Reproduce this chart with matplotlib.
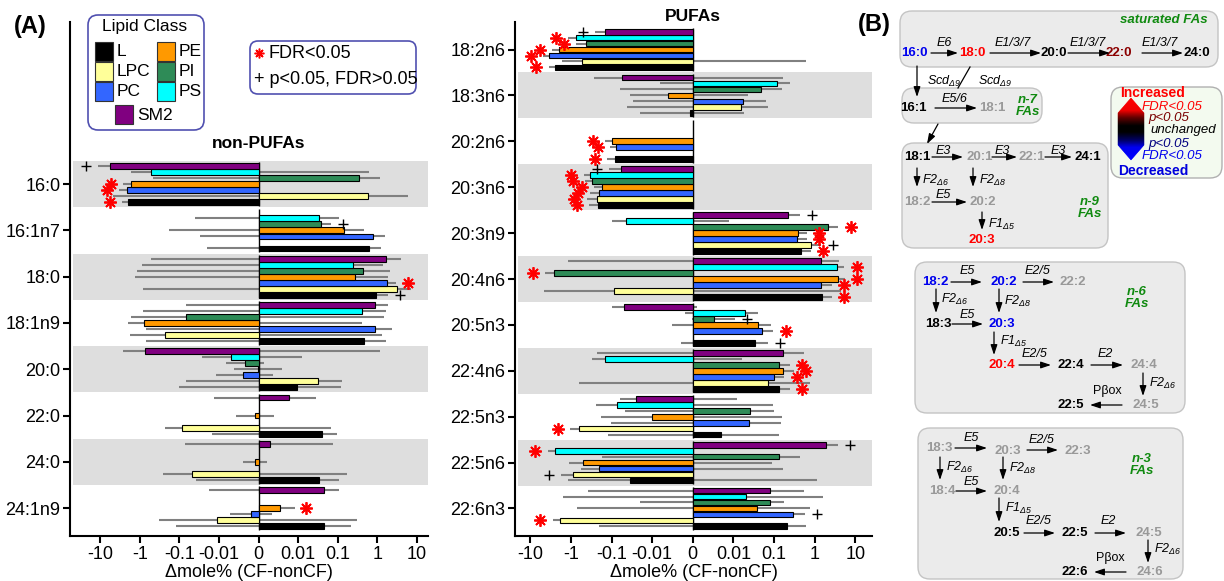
import numpy as np
import matplotlib
matplotlib.use('Agg')
import matplotlib.pyplot as plt
from matplotlib.patches import FancyBboxPatch, Polygon
from matplotlib.colors import LinearSegmentedColormap

plt.rcParams['font.family'] = ['Liberation Sans', 'DejaVu Sans']
plt.rcParams['mathtext.fontset'] = 'custom'
plt.rcParams['mathtext.rm'] = 'Liberation Sans:italic'
plt.rcParams['mathtext.it'] = 'Liberation Sans:italic'
plt.rcParams['mathtext.bf'] = 'Liberation Sans:bold'
plt.rcParams['axes.unicode_minus'] = False

nan = np.nan

# lipid classes, bottom to top inside each group
classes = ['L', 'LPC', 'PC', 'PE', 'PI', 'PS', 'SM2']
class_colors = ['#000000', '#ffff99', '#3366ff', '#ff9900', '#2e8b57', '#00ffff', '#800080']

x_ticks = [-10, -1, -0.1, -0.01, 0, 0.01, 0.1, 1, 10]
x_tick_labels = ['-10', '-1', '-0.1', '-0.01', '0', '0.01', '0.1', '1', '10']

# non-PUFAs: mean delta mole% and error, columns follow `classes`
nonpufa_names = ['16:0', '16:1n7', '18:0', '18:1n9', '20:0', '22:0', '24:0', '24:1n9']
nonpufa_mean = [
    [-2.0, 0.58, -2.1, -1.64, 0.34, -0.51, -5.8],
    [0.61, nan, 0.77, 0.142, 0.038, 0.033, nan],
    [0.94, 3.17, 1.78, 0.28, 0.43, 0.24, 1.67],
    [0.46, -0.235, 0.85, -0.8, -0.069, 0.41, 0.89],
    [0.0097, 0.0316, -0.004, -0.0002, -0.0035, -0.0069, -0.74],
    [0.04, -0.085, nan, -0.001, nan, nan, 0.0078],
    [0.033, -0.047, nan, -0.0009, nan, nan, 0.003],
    [0.045, -0.0112, -0.002, 0.0053, nan, nan, 0.046],
]
nonpufa_err = [
    [0.8, 5.3, 1.3, 1.04, 0.8, 1.14, 5.6],
    [0.63, nan, 0.8, 0.33, 0.031, 0.074, nan],
    [0.9, 4.0, 1.22, 1.57, 1.6, 1.14, 2.2],
    [1.15, 1.57, 1.53, 1.2, 1.57, 1.26, 0.96],
    [0.112, 0.098, 0.0077, 0.006, 0.0048, 0.0196, 1.94],
    [0.055, 0.151, nan, 0.0048, nan, nan, 0.021],
    [0.072, 0.22, nan, 0.003, nan, nan, 0.075],
    [0.165, 0.32, 0.0053, 0.0038, nan, nan, 0.064],
]
nonpufa_sig = [
    ['*', '', '*', '*', '', '', '+'],
    ['', '', '', '', '+', '', ''],
    ['+', '', '*', '', '', '', ''],
    ['', '', '', '', '', '', ''],
    ['', '', '', '', '', '', ''],
    ['', '', '', '', '', '', ''],
    ['', '', '', '', '', '', ''],
    ['', '', '', '*', '', '', ''],
]

# PUFAs
pufa_names = ['18:2n6', '18:3n6', '20:2n6', '20:3n6', '20:3n9', '20:4n6',
              '20:5n3', '22:4n6', '22:5n3', '22:5n6', '22:6n3']
pufa_mean = [
    [-2.45, -0.54, -3.37, -1.95, -0.42, -0.74, -0.149],
    [-0.0007, 0.0155, 0.017, -0.006, 0.047, 0.117, -0.056],
    [-0.081, nan, -0.077, -0.098, nan, nan, nan],
    [-0.21, -0.23, -0.198, -0.174, -0.31, -0.33, -0.058],
    [0.46, 0.8, 0.363, 0.38, 2.18, -0.044, 0.226],
    [1.55, -0.085, 1.44, 3.84, -2.58, 3.5, 1.44],
    [0.034, nan, 0.05, 0.04, 0.0053, 0.0195, -0.049],
    [0.133, 0.073, 0.102, 0.17, 0.136, -0.144, 0.164],
    [0.007, -0.65, 0.0244, -0.0102, 0.0257, -0.074, -0.0247],
    [-0.035, -0.91, -0.2, -0.51, 0.136, -2.53, 1.88],
    [0.206, -1.91, 0.30, 0.038, 0.08, 0.0205, 0.08],
]
pufa_err = [
    [1.1, 1.14, 1.5, 0.9, 0.32, 0.41, 0.1],
    [0.019, 0.057, 0.046, 0.0285, 0.108, 0.125, 0.22],
    [0.05, nan, 0.031, 0.046, nan, nan, nan],
    [0.145, 0.18, 0.14, 0.10, 0.14, 0.16, 0.056],
    [0.34, 0.6, 0.28, 0.28, 1.66, 0.053, 0.21],
    [1.1, 4.5, 1.2, 1.8, 1.7, 1.9, 2.6],
    [0.037, nan, 0.047, 0.045, 0.0055, 0.0215, 0.05],
    [0.117, 0.69, 0.078, 0.14, 0.114, 0.16, 0.39],
    [0.126, 0.39, 0.125, 0.167, 0.073, 0.17, 0.037],
    [1.16, 0.86, 0.37, 0.6, 0.31, 1.23, 1.8],
    [0.41, 0.93, 0.28, 0.75, 0.1, 1.55, 0.47],
]
pufa_sig = [
    ['*', '', '*', '*', '*', '*', '+'],
    ['', '', '', '', '', '', ''],
    ['*', '', '*', '*', '', '', ''],
    ['*', '*', '*', '*', '*', '*', '+'],
    ['*', '+', '*', '*', '*', '', '+'],
    ['*', '', '*', '*', '*', '*', ''],
    ['+', '', '*', '', '+', '', ''],
    ['*', '', '*', '*', '*', '', ''],
    ['', '*', '', '', '', '', ''],
    ['', '+', '', '', '', '*', '+'],
    ['', '*', '+', '', '', '', ''],
]

LIN = 0.01


def fwd(x):
    # linear below 0.01, one decade per unit above
    x = np.asarray(x, dtype=float)
    a = np.abs(x)
    t = np.where(a < LIN, a / LIN, np.log10(np.maximum(a, LIN)) + 3)
    return np.sign(x) * t


def inv(t):
    t = np.asarray(t, dtype=float)
    a = np.abs(t)
    return np.sign(t) * np.where(a < 1, a * LIN, LIN * 10 ** np.minimum(a - 1, 300))


def draw_panel(ax, names, mean, err, sig, tlim, title, title_y):
    n = len(names)
    ys = np.arange(n)[::-1]
    ax.set_xscale('function', functions=(fwd, inv))
    for y in ys:
        if y % 2 == 1:
            ax.axhspan(y - 0.5, y + 0.5, xmin=0.008, color='#dedede', lw=0, zorder=0)
    ax.vlines(np.zeros(n), ys - 0.47, ys + 0.47, color='black', lw=1, zorder=2)
    mean = np.array(mean, dtype=float)
    err = np.array(err, dtype=float)
    offs = (np.arange(len(classes)) - 3) * 0.13
    for j, col in enumerate(class_colors):
        m, e = mean[:, j], err[:, j]
        ok = ~np.isnan(m)
        yy = ys[ok] + offs[j]
        ax.hlines(yy, m[ok] - e[ok], m[ok] + e[ok], color='#808080', lw=1.5, zorder=1)
        ax.barh(yy, m[ok], height=0.125, color=col, edgecolor='black', lw=0.8, zorder=3)
        for i in range(n):
            s = sig[i][j]
            if not s:
                continue
            d = np.sign(m[i])
            xm = inv(fwd(m[i] + d * e[i]) + d * 0.3)
            if s == '*':
                ax.plot(xm, ys[i] + offs[j], marker=(8, 2, 0), ms=9, mew=1.3,
                        color='red', zorder=4, clip_on=False)
            else:
                ax.plot(xm, ys[i] + offs[j], marker='+', ms=7, mew=1,
                        color='black', zorder=4, clip_on=False)
    ax.set_xlim(inv(tlim[0]), inv(tlim[1]))
    ax.set_ylim(-0.6, tlim[2])
    ax.set_yticks(ys)
    ax.set_yticklabels(names)
    ax.set_xticks(x_ticks)
    ax.set_xticklabels(x_tick_labels)
    ax.tick_params(labelsize=13, length=5, width=1.5, pad=2)
    for side in ['top', 'right']:
        ax.spines[side].set_visible(False)
    for side in ['left', 'bottom']:
        ax.spines[side].set_linewidth(1.5)
    ax.set_xlabel('\u0394mole% (CF-nonCF)', fontsize=13, labelpad=1)
    ax.text(0, title_y, title, ha='center', va='center', fontsize=12.5, fontweight='bold')


fig = plt.figure(figsize=(12.24, 5.81), dpi=100)
W, H = 1224, 581

ax1 = fig.add_axes([70 / W, 45 / H, 358 / W, 514 / H])
draw_panel(ax1, nonpufa_names, nonpufa_mean, nonpufa_err, nonpufa_sig,
           (-4.765, 4.28, 10.5), 'non-PUFAs', 7.87)

ax2 = fig.add_axes([515 / W, 45 / H, 357.3 / W, 514 / H])
draw_panel(ax2, pufa_names, pufa_mean, pufa_err, pufa_sig,
           (-4.377, 4.42, 10.6), 'PUFAs', 10.73)

# overlay in pixel units for legends and the pathway scheme
ov = fig.add_axes([0, 0, 1, 1], zorder=10)
ov.patch.set_alpha(0)
ov.set_xlim(0, W)
ov.set_ylim(H, 0)

ov.text(30, 27, '(A)', fontsize=17, fontweight='bold', ha='center', va='center')
ov.text(874, 25, '(B)', fontsize=17, fontweight='bold', ha='center', va='center')

# lipid class legend
ov.add_patch(FancyBboxPatch((88, 15), 116, 115, boxstyle='round,pad=0,rounding_size=10',
                            fc='white', ec='#5050b0', lw=1.2))
ov.text(145, 26, 'Lipid Class', fontsize=12.5, ha='center', va='center')
leg_pos = {'L': (95, 42), 'LPC': (95, 62), 'PC': (95, 82),
           'PE': (157, 42), 'PI': (157, 62), 'PS': (157, 82), 'SM2': (115, 105)}
for cls, col in zip(classes, class_colors):
    x, y = leg_pos[cls]
    ov.add_patch(FancyBboxPatch((x, y), 18, 19, boxstyle='square,pad=0',
                                fc=col, ec='#333333', lw=0.8))
    ov.text(x + 22, y + 10, cls, fontsize=12.5, ha='left', va='center')

# significance legend
ov.add_patch(FancyBboxPatch((250, 41), 166, 53, boxstyle='round,pad=0,rounding_size=8',
                            fc='white', ec='#5050b0', lw=1.2))
ov.plot(259, 53, marker=(8, 2, 0), ms=7, mew=1.1, color='red')
ov.text(268, 53, 'FDR<0.05', fontsize=13, ha='left', va='center')
ov.text(254, 79, '+ p<0.05, FDR>0.05', fontsize=13, ha='left', va='center')

# ---- panel B: elongation / desaturation pathways ----
BLUE, RED, DRED, GREY, GREEN = '#0000ee', '#ff0000', '#8b0000', '#999999', '#108a10'


def box(x0, y0, x1, y1):
    ov.add_patch(FancyBboxPatch((x0, y0), x1 - x0, y1 - y0,
                                boxstyle='round,pad=0,rounding_size=12',
                                fc='#ebebeb', ec='#c4c4c4', lw=1))


def fa(x, y, s, c='black'):
    ov.text(x, y, s, color=c, fontsize=9.5, fontweight='bold', ha='center', va='center')


def arr(x0, y0, x1, y1):
    ov.annotate('', xy=(x1, y1), xytext=(x0, y0),
                arrowprops=dict(arrowstyle='-|>,head_length=0.6,head_width=0.2',
                                color='black', lw=0.9, shrinkA=0, shrinkB=0,
                                mutation_scale=10))


def enz(x, y, s, ha='center', italic=True):
    ov.text(x, y, s, fontsize=9, ha=ha, va='center',
            style='italic' if italic else 'normal')


def group(x, y, s1, s2):
    ov.text(x, y, s1, color=GREEN, fontsize=9.5, fontweight='bold', style='italic',
            ha='center', va='center')
    ov.text(x, y + 12, s2, color=GREEN, fontsize=9.5, fontweight='bold', style='italic',
            ha='center', va='center')


# saturated FAs
box(900, 11, 1218, 67)
ov.text(1208, 20, 'saturated FAs', color=GREEN, fontsize=9.5, fontweight='bold',
        style='italic', ha='right', va='center')
fa(914, 53, '16:0', BLUE)
fa(972, 53, '18:0', RED)
fa(1054, 53, '20:0')
fa(1119, 53, '22:0', DRED)
fa(1197, 53, '24:0')
arr(931, 53, 958, 53); enz(944, 43, 'E6')
arr(990, 53, 1041, 53); enz(1013, 43, 'E1/3/7')
arr(1068, 53, 1110, 53); enz(1088, 43, 'E1/3/7')
arr(1142, 53, 1183, 53); enz(1160, 43, 'E1/3/7')
arr(917, 66, 917, 97); enz(927, 81, r'Scd$_{\Delta9}$', ha='left')
ov.plot([970, 958], [67, 88], color='black', lw=0.9)
enz(978, 81, r'Scd$_{\Delta9}$', ha='left')

# n-7
box(902, 88, 1042, 123)
fa(913, 108, '16:1')
arr(935, 108, 977, 108); enz(955, 99, 'E5/6')
fa(992, 108, '18:1', GREY)
group(1028, 100, 'n-7', 'FAs')
arr(938, 124, 927, 144)

# n-9
box(902, 143, 1108, 248)
fa(917, 157, '18:1')
arr(932, 157, 963, 157); enz(943, 151, 'E3')
fa(980, 157, '20:1', GREY)
arr(992, 157, 1017, 157); enz(1002, 151, 'E3')
fa(1032, 157, '22:1', GREY)
arr(1045, 157, 1072, 157); enz(1058, 151, 'E3')
fa(1088, 157, '24:1')
arr(917, 168, 917, 187); enz(922, 180, r'F2$_{\Delta6}$', ha='left')
arr(973, 168, 973, 187); enz(979, 180, r'F2$_{\Delta8}$', ha='left')
fa(917, 202, '18:2', GREY)
arr(932, 202, 967, 202); enz(943, 195, 'E5')
fa(983, 202, '20:2', GREY)
arr(982, 212, 982, 230); enz(988, 224, r'F1$_{\Delta5}$', ha='left')
fa(982, 240, '20:3', RED)
group(1090, 202, 'n-9', 'FAs')

# n-6
box(915, 262, 1185, 413)
fa(935, 282, '18:2', BLUE)
arr(951, 282, 982, 282); enz(967, 271, 'E5')
fa(1004, 282, '20:2', BLUE)
arr(1023, 282, 1054, 282); enz(1038, 271, 'E2/5')
fa(1073, 282, '22:2', GREY)
group(1137, 292, 'n-6', 'FAs')
arr(936, 289, 936, 313); enz(941, 299, r'F2$_{\Delta6}$', ha='left')
arr(999, 289, 999, 313); enz(1004, 301, r'F2$_{\Delta8}$', ha='left')
fa(938, 324, '18:3')
arr(952, 324, 983, 324); enz(967, 315, 'E5')
fa(1002, 324, '20:3', BLUE)
arr(994, 332, 994, 355); enz(1000, 341, r'F1$_{\Delta5}$', ha='left')
fa(1002, 365, '20:4', RED)
arr(1019, 365, 1051, 365); enz(1035, 354, 'E2/5')
fa(1071, 365, '22:4')
arr(1091, 365, 1123, 365); enz(1105, 354, 'E2')
fa(1144, 365, '24:4', GREY)
arr(1143, 373, 1143, 396); enz(1149, 383, r'F2$_{\Delta6}$', ha='left')
fa(1146, 405, '24:5', GREY)
arr(1122, 405, 1090, 405); enz(1107, 391, 'P\u03b2ox', italic=False)
fa(1071, 405, '22:5')

# n-3
box(918, 428, 1183, 579)
fa(939, 448, '18:3', GREY)
arr(955, 448, 987, 448); enz(971, 438, 'E5')
fa(1008, 451, '20:3', GREY)
arr(1027, 450, 1058, 450); enz(1042, 440, 'E2/5')
fa(1078, 451, '22:3', GREY)
group(1142, 459, 'n-3', 'FAs')
arr(940, 457, 940, 480); enz(946, 467, r'F2$_{\Delta6}$', ha='left')
arr(1003, 457, 1003, 480); enz(1009, 468, r'F2$_{\Delta8}$', ha='left')
fa(942, 491, '18:4', GREY)
arr(956, 491, 987, 491); enz(971, 482, 'E5')
fa(1007, 491, '20:4', GREY)
arr(999, 498, 999, 522); enz(1005, 508, r'F1$_{\Delta5}$', ha='left')
fa(1007, 533, '20:5')
arr(1024, 533, 1055, 533); enz(1039, 521, 'E2/5')
fa(1075, 533, '22:5')
arr(1095, 533, 1126, 533); enz(1108, 521, 'E2')
fa(1149, 533, '24:5', GREY)
arr(1148, 540, 1148, 563); enz(1154, 549, r'F2$_{\Delta6}$', ha='left')
fa(1150, 572, '24:6', GREY)
arr(1126, 572, 1094, 572); enz(1110, 558, 'P\u03b2ox', italic=False)
fa(1075, 572, '22:6')

# colour key for panel B
ov.add_patch(FancyBboxPatch((1111, 87), 111, 91, boxstyle='round,pad=0,rounding_size=12',
                            fc='#f3faef', ec='#b0b0b0', lw=1))
ov.text(1153, 93, 'Increased', color=RED, fontsize=10, fontweight='bold',
        ha='center', va='center')
ov.text(1153, 171, 'Decreased', color='#0000dd', fontsize=10, fontweight='bold',
        ha='center', va='center')
key_cmap = LinearSegmentedColormap.from_list('key', [
    (0, '#ff0000'), (0.2, '#f00000'), (0.32, '#600000'), (0.45, '#000000'),
    (0.55, '#000000'), (0.68, '#000060'), (0.8, '#0000f0'), (1, '#0000ff')])
# hexagon made of thin horizontal slices coloured top (red) to bottom (blue)
k_top, k_a, k_b, k_bot, k_xc, k_hw = 98, 113, 145, 160, 1131, 13


def key_half(y):
    if y < k_a:
        return k_hw * (y - k_top) / (k_a - k_top)
    if y > k_b:
        return k_hw * (k_bot - y) / (k_bot - k_b)
    return k_hw


edges = np.linspace(k_top, k_bot, 63)
for y0, y1 in zip(edges[:-1], edges[1:]):
    w0, w1 = key_half(y0), key_half(y1)
    c = key_cmap((0.5 * (y0 + y1) - k_top) / (k_bot - k_top))
    ov.add_patch(Polygon([(k_xc - w0, y0), (k_xc + w0, y0), (k_xc + w1, y1), (k_xc - w1, y1)],
                         closed=True, fc=c, ec=c, lw=0.3))
ov.text(1142, 107, 'FDR<0.05', color=RED, fontsize=9.5, style='italic', ha='left', va='center')
ov.text(1148, 118, 'p<0.05', color='#7a0000', fontsize=9.5, style='italic', ha='left', va='center')
ov.text(1150, 130, 'unchanged', color='black', fontsize=9.5, style='italic', ha='left', va='center')
ov.text(1148, 144, 'p<0.05', color='#000080', fontsize=9.5, style='italic', ha='left', va='center')
ov.text(1142, 156, 'FDR<0.05', color=BLUE, fontsize=9.5, style='italic', ha='left', va='center')

ov.axis('off')

fig.savefig('out.png', dpi=100)
